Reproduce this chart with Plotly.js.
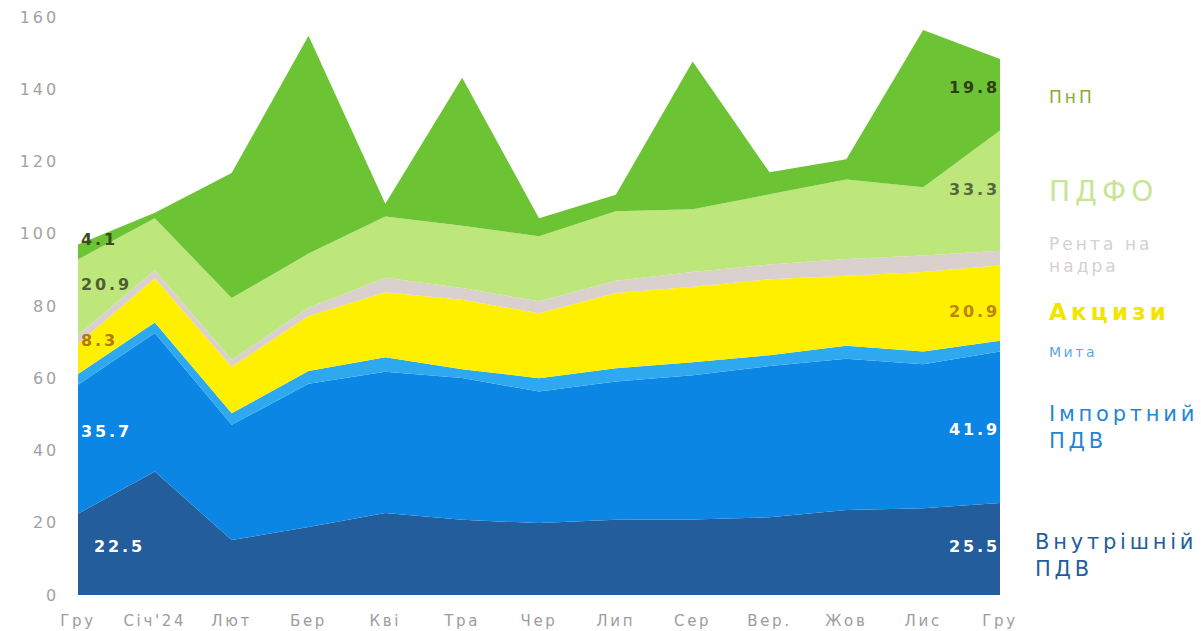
<!DOCTYPE html>
<html>
<head>
<meta charset="utf-8">
<script src="https://cdn.plot.ly/plotly-3.0.1.min.js"></script>
<style>
  html, body { margin: 0; padding: 0; background: #ffffff; }
  #chart { width: 1201px; height: 631px; }
  svg text { letter-spacing: 0.18em; }
</style>
</head>
<body>
<div id="chart"></div>
<script>
// Months (x tick labels)
const months = ["Гру", "Січ'24", "Лют", "Бер", "Кві", "Тра", "Чер", "Лип", "Сер", "Вер.", "Жов", "Лис", "Гру"];

// Series values, bottom to top of the stack (млрд грн)
const vnutrPdv  = [22.5, 34.2, 15.2, 18.8, 22.7, 20.8, 19.9, 20.8, 20.9, 21.5, 23.5, 24.0, 25.5];
const importPdv = [35.7, 38.3, 31.9, 39.7, 39.1, 39.3, 36.4, 38.3, 39.9, 41.9, 41.9, 39.9, 41.9];
const myta      = [3.0, 2.9, 3.2, 3.5, 4.0, 2.4, 3.7, 3.7, 3.6, 3.0, 3.6, 3.5, 3.0];
const aktsyzy   = [8.3, 12.3, 12.9, 15.2, 18.0, 19.2, 18.0, 20.8, 20.9, 21.0, 19.4, 22.0, 20.9];
const renta     = [2.5, 2.3, 1.9, 2.3, 4.0, 3.3, 3.3, 3.4, 4.1, 4.1, 4.6, 4.6, 4.0];
const pdfo      = [20.9, 14.3, 17.1, 15.0, 17.0, 17.2, 18.0, 19.2, 17.4, 19.4, 22.0, 18.9, 33.3];
const pnp       = [4.1, 1.5, 34.6, 60.3, 3.5, 41.0, 5.0, 4.6, 40.9, 6.1, 5.6, 43.5, 19.8];

const seriesNames = ["Внутрішній ПДВ", "Імпортний ПДВ", "Мита", "Акцизи", "Рента на надра", "ПДФО", "ПнП"];
const yTicks = [0, 20, 40, 60, 80, 100, 120, 140, 160];

const xIdx = months.map((m, i) => i);
const last = months.length - 1;

const fills = ["#245d9c", "#0b86e4", "#2ea8ef", "#fff000", "#dad0cd", "#bde67b", "#6cc435"];
const seriesData = [vnutrPdv, importPdv, myta, aktsyzy, renta, pdfo, pnp];

const traces = seriesData.map((vals, k) => ({
  type: "scatter",
  x: xIdx,
  y: vals,
  name: seriesNames[k],
  stackgroup: "taxes",
  mode: "none",
  fillcolor: fills[k],
  line: { width: 0 },
  hoverinfo: "skip"
}));

const fontFam = "DejaVu Sans, Verdana, sans-serif";

function dataLabel(x, y, text, color, side, xshift) {
  return {
    xref: "x", yref: "y", x: x, y: y,
    text: text, showarrow: false,
    xanchor: side, yanchor: "middle", xshift: xshift,
    font: { family: fontFam, size: 16, color: color, weight: "bold" }
  };
}

function legendLabel(xp, yv, text, color, size, weight) {
  return {
    xref: "paper", yref: "y", x: xp, y: yv,
    text: text, showarrow: false, align: "left",
    xanchor: "left", yanchor: "middle",
    font: { family: fontFam, size: size, color: color, weight: weight || "normal" }
  };
}

const annotations = [
  // left (Гру 2023) labels
  dataLabel(0, 98.3, String(pnp[0]), "#3b4a1a", "left", 1),
  dataLabel(0, 85.9, String(pdfo[0]), "#4f5d35", "left", 1),
  dataLabel(0, 70.4, String(aktsyzy[0]), "#b07a10", "left", 1),
  dataLabel(0, 45.2, String(importPdv[0]), "#ffffff", "left", 1),
  dataLabel(0, 13.3, String(vnutrPdv[0]), "#ffffff", "left", 14),
  // right (Гру 2024) labels
  dataLabel(last, 140.4, String(pnp[last]), "#2f3e16", "right", 2),
  dataLabel(last, 112.2, String(pdfo[last]), "#56663f", "right", 2),
  dataLabel(last, 78.4, String(aktsyzy[last]), "#b8860b", "right", 2),
  dataLabel(last, 45.7, String(importPdv[last]), "#ffffff", "right", 2),
  dataLabel(last, 13.3, String(vnutrPdv[last]), "#ffffff", "right", 2),
  // series names on the right
  legendLabel(1.051, 137.9, "ПнП", "#84ad32", 17),
  legendLabel(1.051, 111.6, "ПДФО", "#c8e496", 28),
  legendLabel(1.051, 94.2, "Рента на<br>надра", "#d6d0d0", 17),
  legendLabel(1.051, 78.4, "Акцизи", "#f2e600", 23, "bold"),
  legendLabel(1.051, 67.3, "Мита", "#5aa9de", 14),
  legendLabel(1.051, 46.5, "Імпортний<br>ПДВ", "#1f86d6", 21),
  legendLabel(1.036, 10.8, "Внутрішній<br>ПДВ", "#1e5e9a", 21)
];

const layout = {
  width: 1201, height: 631,
  margin: { l: 78, r: 201, t: 17, b: 36, pad: 0 },
  paper_bgcolor: "#ffffff", plot_bgcolor: "#ffffff",
  showlegend: false,
  hovermode: false,
  xaxis: {
    range: [0, last], tickmode: "array", tickvals: xIdx, ticktext: months,
    showgrid: false, zeroline: false, showline: false, ticks: "",
    ticklabelstandoff: 15,
    tickfont: { family: fontFam, size: 15, color: "#9c9c9c" },
    fixedrange: true
  },
  yaxis: {
    range: [0, 160], tickmode: "array", tickvals: yTicks, ticktext: yTicks.map(String),
    showgrid: false, zeroline: false, showline: false, ticks: "",
    ticklabelstandoff: 18,
    tickfont: { family: fontFam, size: 16, color: "#a2a2a2" },
    fixedrange: true
  },
  annotations: annotations
};

Plotly.newPlot("chart", traces, layout, { displayModeBar: false, staticPlot: true });
</script>
</body>
</html>
